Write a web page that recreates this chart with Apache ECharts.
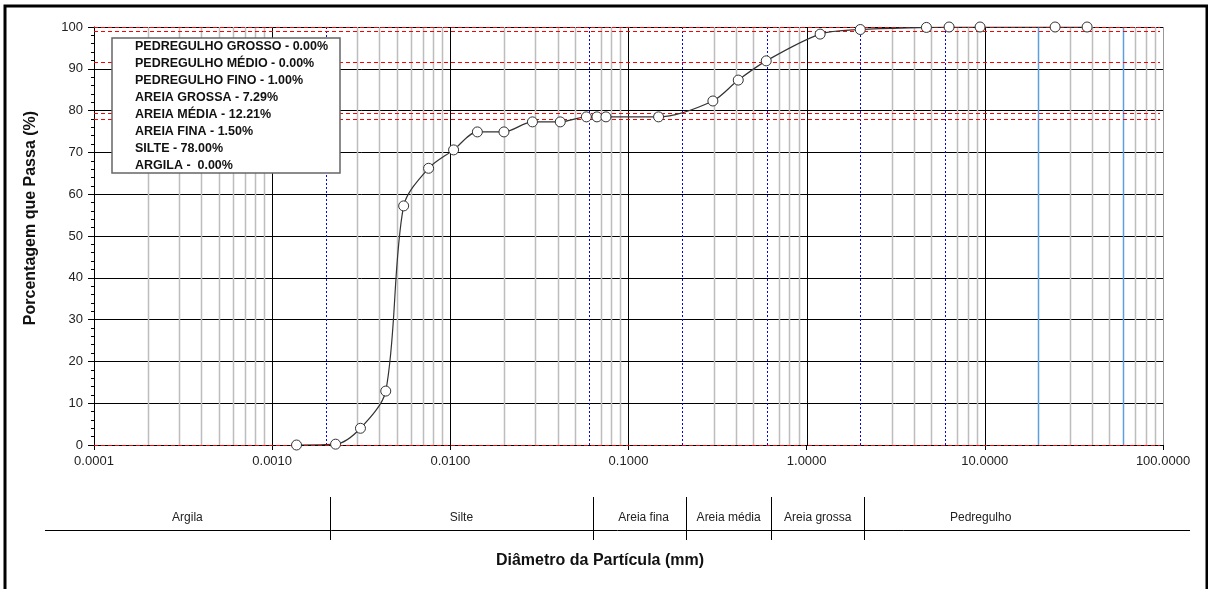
<!DOCTYPE html>
<html>
<head>
<meta charset="utf-8">
<script src="https://cdn.jsdelivr.net/npm/echarts@6/dist/echarts.min.js"></script>
<style>
  html, body { margin: 0; padding: 0; background: #fff; }
  #chart { width: 1208px; height: 589px; }
</style>
</head>
<body>
<div id="chart"></div>
<script>
// curva granulométrica
const diameters = [0.00137, 0.00227, 0.00313, 0.00434, 0.00547, 0.00755, 0.01043, 0.01418, 0.0200, 0.0289, 0.0414,
  0.0580, 0.0665, 0.0747, 0.1475, 0.2976, 0.413, 0.593, 1.19, 2.0, 4.70, 6.30, 9.40, 24.8, 37.5]
const passing = [0.0, 0.2, 4.0, 12.9, 57.2, 66.2, 70.6, 74.9, 74.9, 77.3, 77.3,
  78.5, 78.5, 78.5, 78.5, 82.3, 87.3, 91.9, 98.3, 99.4, 99.9, 100, 100, 100, 100]

const decades = [0.0001, 0.001, 0.01, 0.1, 1, 10]
const minorSteps = [2, 3, 4, 5, 6, 7, 8, 9]
const classBounds = [0.002, 0.06, 0.2, 0.6, 2, 6]   // limites tracejados azuis
const sieveLines = [20, 60]                          // linhas azuis contínuas
const cumulLevels = [100, 99, 91.71, 79.5, 78, 0]    // linhas vermelhas

const legendLines = [
  'PEDREGULHO GROSSO - 0.00%',
  'PEDREGULHO MÉDIO - 0.00%',
  'PEDREGULHO FINO - 1.00%',
  'AREIA GROSSA - 7.29%',
  'AREIA MÉDIA - 12.21%',
  'AREIA FINA - 1.50%',
  'SILTE - 78.00%',
  'ARGILA -  0.00%'
]
const soilClasses = ['Argila', 'Silte', 'Areia fina', 'Areia média', 'Areia grossa', 'Pedregulho']
const stripBounds = [0.002, 0.06, 0.2, 0.6, 2]

const FONT = 'Liberation Sans, Arial, sans-serif'
const chart = echarts.init(document.getElementById('chart'))

const blueLines = classBounds.concat(sieveLines)
const isBlue = v => blueLines.some(b => Math.abs(b - v) / b < 1e-6)

const minorValues = []
decades.forEach(d => {
  minorSteps.forEach(m => {
    if (!isBlue(d * m)) minorValues.push(d * m)
  })
})

// linhas verticais de referência (posição via escala do eixo, alinhada ao pixel)
function vLines(values, z, style) {
  return {
    type: 'custom',
    z: z,
    silent: true,
    clip: false,
    data: values.map(v => [v, 50]),
    encode: { x: 0, y: 1 },
    renderItem: (params, api) => {
      const cs = params.coordSys
      const x = Math.round(api.coord([api.value(0), 50])[0]) + 0.5
      return { type: 'line', shape: { x1: x, y1: cs.y, x2: x, y2: cs.y + cs.height }, style: Object.assign({ fill: null }, style) }
    }
  }
}

// linhas horizontais de referência
function hLines(values, z, style) {
  return {
    type: 'custom',
    z: z,
    silent: true,
    clip: false,
    data: values.map(v => [1, v]),
    encode: { x: 0, y: 1 },
    renderItem: (params, api) => {
      const cs = params.coordSys
      const y = Math.round(api.coord([1, api.value(1)])[1]) + 0.5
      return { type: 'line', shape: { x1: cs.x, y1: y, x2: cs.x + cs.width - 3, y2: y }, style: Object.assign({ fill: null }, style) }
    }
  }
}

chart.setOption({
  animation: false,
  backgroundColor: '#fff',
  grid: { left: 94, right: 45, top: 27, height: 418, containLabel: false },
  xAxis: {
    type: 'log',
    logBase: 10,
    min: 0.0001,
    max: 100,
    splitNumber: 6,
    axisLine: { show: true, lineStyle: { color: '#000', width: 1 } },
    axisTick: { show: true, length: 5, lineStyle: { color: '#000' } },
    axisLabel: {
      margin: 10,
      color: '#222',
      fontSize: 13,
      fontFamily: FONT,
      formatter: v => Number(v).toFixed(4)
    },
    splitLine: { show: false }
  },
  yAxis: {
    type: 'value',
    min: 0,
    max: 100,
    interval: 10,
    axisLine: { show: true, lineStyle: { color: '#000', width: 1 } },
    axisTick: { show: true, length: 6, lineStyle: { color: '#000' } },
    minorTick: { show: true, splitNumber: 5, length: 3, lineStyle: { color: '#000' } },
    axisLabel: { margin: 11, color: '#222', fontSize: 13, fontFamily: FONT },
    splitLine: { show: true, lineStyle: { color: '#000', width: 1 } }
  },
  series: [
    vLines(minorValues, 1, { stroke: '#bdbdbd', lineWidth: 1.5 }),
    vLines(decades.slice(1), 1, { stroke: '#000', lineWidth: 1 }),
    vLines([100], 1, { stroke: '#999', lineWidth: 1 }),
    vLines(classBounds, 2, { stroke: '#0000ff', lineWidth: 1, lineDash: [2, 2] }),
    vLines(sieveLines, 2, { stroke: '#5b9fe0', lineWidth: 1.5 }),
    hLines(cumulLevels, 3, { stroke: '#ff0000', lineWidth: 1, lineDash: [4, 3] }),
    {
      type: 'line',
      z: 5,
      data: diameters.map((d, i) => [d, passing[i]]),
      smooth: 0.3,
      symbol: 'circle',
      symbolSize: 10,
      lineStyle: { color: '#333', width: 1.2 },
      itemStyle: { color: '#fff', borderColor: '#333', borderWidth: 1 }
    }
  ]
})

// elementos gráficos: moldura, caixa de resumo, faixa de classificação e títulos
const px = v => chart.convertToPixel({ xAxisIndex: 0 }, v)
const seps = stripBounds.map(v => px(v) + 4)
const edges = [45].concat(seps, [1097])

const graphics = []
graphics.push({
  type: 'rect', silent: true,
  shape: { x: 5, y: 6, width: 1202, height: 620 },
  style: { fill: 'none', stroke: '#000', lineWidth: 3 }
})
graphics.push({
  type: 'rect', silent: true, z: 10,
  shape: { x: 112, y: 38, width: 228, height: 135 },
  style: { fill: '#fff', stroke: '#666', lineWidth: 1.5 }
})
legendLines.forEach((t, i) => {
  graphics.push({
    type: 'text', silent: true, z: 11,
    x: 135, y: 47 + i * 17,
    style: { text: t, font: 'bold 12.5px ' + FONT, fill: '#111', textVerticalAlign: 'middle', verticalAlign: 'middle' }
  })
})
graphics.push({
  type: 'line', silent: true,
  shape: { x1: 45, y1: 530.5, x2: 1190, y2: 530.5 },
  style: { stroke: '#000', lineWidth: 1 }
})
seps.forEach(x => {
  graphics.push({
    type: 'line', silent: true,
    shape: { x1: Math.round(x) + 0.5, y1: 497, x2: Math.round(x) + 0.5, y2: 540 },
    style: { stroke: '#000', lineWidth: 1 }
  })
})
soilClasses.forEach((name, i) => {
  graphics.push({
    type: 'text', silent: true,
    x: (edges[i] + edges[i + 1]) / 2 + (i === 2 ? 4 : 0), y: 518,
    style: { text: name, font: '12px ' + FONT, fill: '#222', align: 'center', textAlign: 'center', verticalAlign: 'middle', textVerticalAlign: 'middle' }
  })
})
graphics.push({
  type: 'text', silent: true,
  x: 600, y: 561,
  style: { text: 'Diâmetro da Partícula (mm)', font: 'bold 16px ' + FONT, fill: '#111', align: 'center', textAlign: 'center', verticalAlign: 'middle', textVerticalAlign: 'middle' }
})
graphics.push({
  type: 'text', silent: true,
  x: 31, y: 218, rotation: Math.PI / 2,
  style: { text: 'Porcentagem que Passa (%)', font: 'bold 16px ' + FONT, fill: '#111', align: 'center', textAlign: 'center', verticalAlign: 'middle', textVerticalAlign: 'middle' }
})

chart.setOption({ graphic: graphics })
</script>
</body>
</html>
